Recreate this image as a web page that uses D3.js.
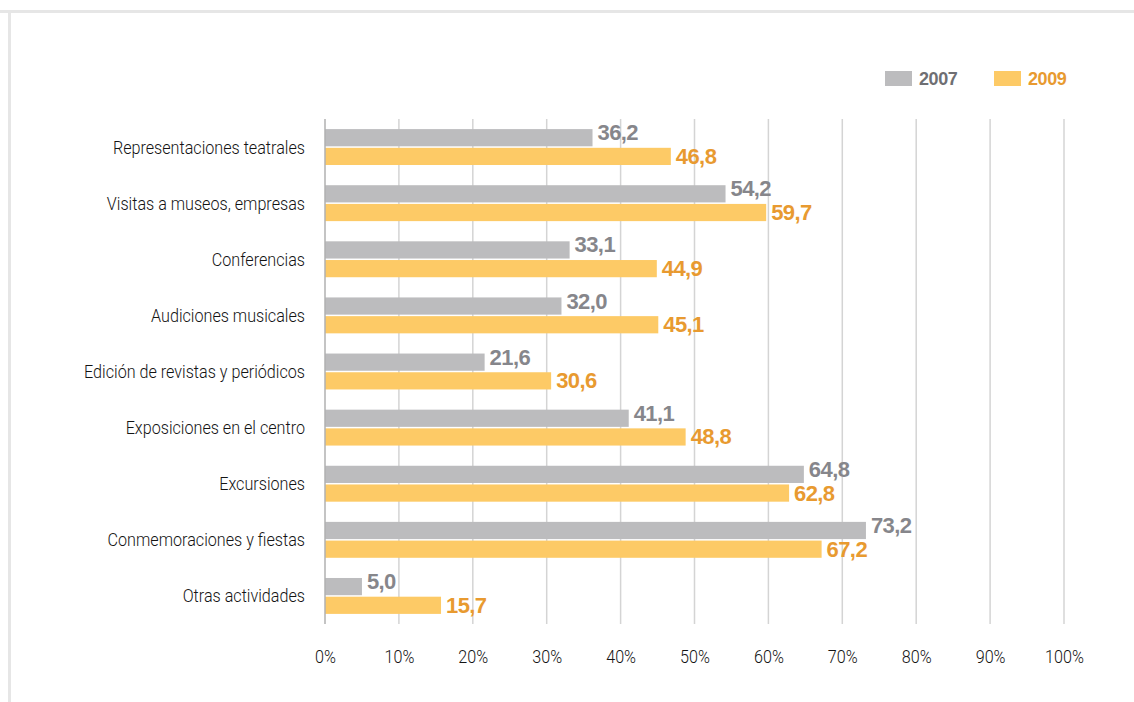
<!DOCTYPE html>
<html>
<head>
<meta charset="utf-8">
<script src="https://cdn.jsdelivr.net/npm/d3@7"></script>
<style>
  body { margin: 0; background: #fff; }
  .cat { font-family: Roboto, "Liberation Sans", sans-serif; font-weight: 300; font-size: 19px; fill: #141414; }
  .tick text { font-family: Roboto, "Liberation Sans", sans-serif; font-weight: 300; font-size: 19px; fill: #141414; }
  .val { font-family: "Liberation Sans", Arial, sans-serif; font-size: 22px; font-weight: bold; letter-spacing: -0.6px; }
  .leg { font-family: "Liberation Sans", Arial, sans-serif; font-size: 18px; font-weight: bold; letter-spacing: -0.4px; }
</style>
</head>
<body>
<svg id="chart"></svg>
<script>
var categories = ["Representaciones teatrales", "Visitas a museos, empresas", "Conferencias",
  "Audiciones musicales", "Edición de revistas y periódicos", "Exposiciones en el centro",
  "Excursiones", "Conmemoraciones y fiestas", "Otras actividades"];
var years = ["2007", "2009"];
var values2007 = [36.2, 54.2, 33.1, 32.0, 21.6, 41.1, 64.8, 73.2, 5.0];
var values2009 = [46.8, 59.7, 44.9, 45.1, 30.6, 48.8, 62.8, 67.2, 15.7];
var ticks = [0, 10, 20, 30, 40, 50, 60, 70, 80, 90, 100];

var barColor = {"2007": "#bcbcbe", "2009": "#fdca66"};
var textColor = {"2007": "#86868b", "2009": "#e89a30"};
var labelShift = {"2007": -5, "2009": 0};

var W = 1134, H = 702;
var svg = d3.select("#chart").attr("width", W).attr("height", H);

// frame: top and left edges
svg.append("line").attr("x1", 0).attr("x2", W).attr("y1", 11.5).attr("y2", 11.5)
  .attr("stroke", "#e6e6e6").attr("stroke-width", 3);
svg.append("line").attr("x1", 9.5).attr("x2", 9.5).attr("y1", 10).attr("y2", H)
  .attr("stroke", "#e6e6e6").attr("stroke-width", 3);

var x = d3.scaleLinear().domain([0, 100]).range([325, 1064]);
var y = d3.scaleBand().domain(categories).range([119, 624])
  .paddingInner(0.36).paddingOuter(0.18);
var ys = d3.scaleBand().domain(years).range([0, y.bandwidth()]).paddingInner(0.08);

// gridlines
svg.append("g").selectAll("line").data(ticks.slice(1)).join("line")
  .attr("x1", function(d) { return x(d); }).attr("x2", function(d) { return x(d); })
  .attr("y1", 119).attr("y2", 624)
  .attr("stroke", "#d4d4d4").attr("stroke-width", 1.5);

// x axis labels (narrowed to mimic the condensed face)
var xAxis = svg.append("g")
  .attr("transform", "translate(0,624)")
  .call(d3.axisBottom(x).tickValues(ticks).tickFormat(function(d) { return d + "%"; })
    .tickSize(0).tickPadding(0));
xAxis.select(".domain").remove();
xAxis.selectAll(".tick text")
  .attr("dy", null).attr("y", null)
  .attr("dominant-baseline", "central")
  .attr("transform", "translate(0,33) scale(0.85,1)");

var rows = categories.map(function(c, i) {
  return {cat: c, vals: [{year: "2007", v: values2007[i]}, {year: "2009", v: values2009[i]}]};
});

var g = svg.append("g").selectAll("g").data(rows).join("g")
  .attr("transform", function(d) { return "translate(0," + y(d.cat) + ")"; });

g.selectAll("rect").data(function(d) { return d.vals; }).join("rect")
  .attr("x", x(0))
  .attr("y", function(d) { return ys(d.year); })
  .attr("width", function(d) { return x(d.v) - x(0); })
  .attr("height", ys.bandwidth())
  .attr("fill", function(d) { return barColor[d.year]; });

g.selectAll("text.val").data(function(d) { return d.vals; }).join("text")
  .attr("class", "val")
  .attr("x", function(d) { return x(d.v) + 5; })
  .attr("y", function(d) { return ys(d.year) + ys.bandwidth() / 2 + labelShift[d.year]; })
  .attr("dominant-baseline", "central")
  .attr("fill", function(d) { return textColor[d.year]; })
  .text(function(d) { return d.v.toFixed(1).replace(".", ","); });

g.append("text").attr("class", "cat")
  .attr("transform", "translate(305," + (y.bandwidth() / 2) + ") scale(0.85,1)")
  .attr("text-anchor", "end")
  .attr("dominant-baseline", "central")
  .text(function(d) { return d.cat; });

// left axis line
svg.append("line").attr("x1", x(0)).attr("x2", x(0)).attr("y1", 119).attr("y2", 624)
  .attr("stroke", "#b0b0b0").attr("stroke-width", 1.5);

// legend
var legX = [885, 994];
var leg = svg.append("g").selectAll("g").data(years).join("g")
  .attr("transform", function(d, i) { return "translate(" + legX[i] + ",71)"; });
leg.append("rect").attr("width", 27).attr("height", 15)
  .attr("fill", function(d) { return barColor[d]; });
leg.append("text").attr("class", "leg")
  .attr("x", 34).attr("y", 8).attr("dominant-baseline", "central")
  .attr("fill", function(d) { return d === "2007" ? "#6f6f73" : textColor[d]; })
  .text(function(d) { return d; });
</script>
</body>
</html>
